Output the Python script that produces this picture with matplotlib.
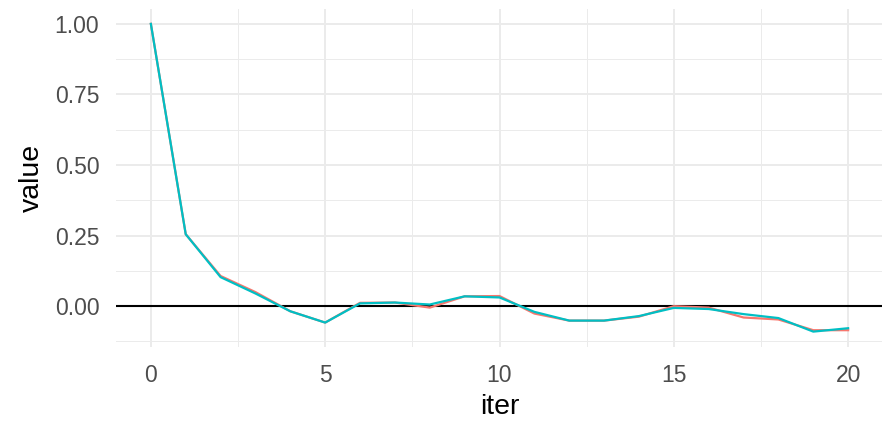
import matplotlib
matplotlib.use("Agg")
import matplotlib.pyplot as plt
from matplotlib.ticker import MultipleLocator

plt.rcParams['font.family'] = ['Liberation Sans', 'DejaVu Sans']

# lag values for the two chains
iters = list(range(21))
chain_a = [1.0, 0.255, 0.107, 0.05, -0.018, -0.058, 0.012, 0.013, -0.005, 0.035,
           0.036, -0.026, -0.051, -0.051, -0.037, 0.0, -0.005, -0.04, -0.047, -0.085, -0.085]
chain_b = [1.0, 0.255, 0.103, 0.045, -0.018, -0.058, 0.01, 0.013, 0.006, 0.035,
           0.031, -0.02, -0.051, -0.051, -0.035, -0.006, -0.01, -0.028, -0.042, -0.09, -0.078]

fig = plt.figure(figsize=(8.82, 4.22), dpi=100)
ax = fig.add_axes([116 / 882, 1 - 347 / 422, (883 - 116) / 882, (347 - 8.5) / 422])

ax.set_xlim(-1, 21)
ax.set_ylim(-0.1445, 1.0545)
ax.xaxis.set_major_locator(MultipleLocator(5))
ax.xaxis.set_minor_locator(MultipleLocator(2.5))
ax.yaxis.set_major_locator(MultipleLocator(0.25))
ax.yaxis.set_minor_locator(MultipleLocator(0.125))

ax.grid(which='major', color='#EBEBEB', linewidth=1.4)
ax.grid(which='minor', color='#EBEBEB', linewidth=0.7)
ax.set_axisbelow(True)
for s in ax.spines.values():
    s.set_visible(False)
ax.tick_params(which='both', length=0, labelsize=16.5, labelcolor='#4D4D4D')
ax.tick_params(axis='y', pad=12)
ax.tick_params(axis='x', pad=12.5)
ax.set_yticklabels([f'{v:.2f}' for v in ax.get_yticks()])

ax.axhline(0, color='black', linewidth=1.5, zorder=2)
ax.plot(iters, chain_a, color='#F8766D', linewidth=1.6, zorder=3)
ax.plot(iters, chain_b, color='#00BFC4', linewidth=1.6, zorder=4)

ax.set_xlabel('iter', fontsize=20.5, labelpad=5)
ax.set_ylabel('value', fontsize=20.5, labelpad=7)

fig.savefig('out.png', dpi=100)
